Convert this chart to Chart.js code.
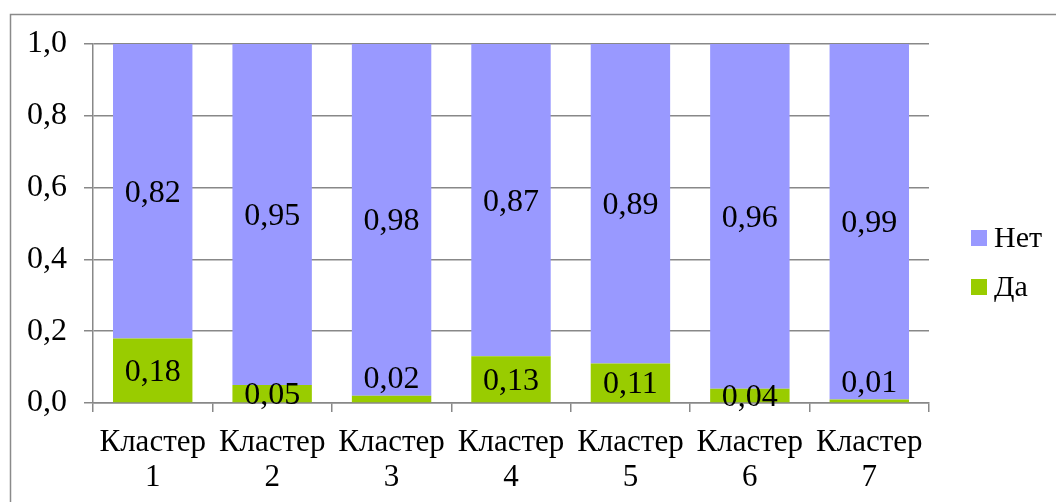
<!DOCTYPE html>
<html>
<head>
<meta charset="utf-8">
<script src="https://cdn.jsdelivr.net/npm/chart.js@4"></script>
<style>
  html, body { margin: 0; padding: 0; background: #fff; }
  #wrap { position: relative; width: 1056px; height: 502px; }
  canvas { display: block; }
</style>
</head>
<body>
<div id="wrap"><canvas id="c" width="1056" height="502"></canvas></div>
<script>
// Доли ответов по кластерам
const clusters = [["Кластер", "1"], ["Кластер", "2"], ["Кластер", "3"], ["Кластер", "4"], ["Кластер", "5"], ["Кластер", "6"], ["Кластер", "7"]];
const yesShare = [0.18, 0.05, 0.02, 0.13, 0.11, 0.04, 0.01];
const noShare = [0.82, 0.95, 0.98, 0.87, 0.89, 0.96, 0.99];
const seriesNames = ["Да", "Нет"];
const yTicks = [0, 0.2, 0.4, 0.6, 0.8, 1.0];

const FONT = "'Liberation Serif', 'Times New Roman', serif";
const GRID = '#888888';
const fmt = v => v.toFixed(2).replace('.', ',');

// Подписи значений внутри сегментов
const valueLabels = {
  id: 'valueLabels',
  afterDatasetsDraw(chart) {
    const ctx = chart.ctx;
    ctx.save();
    ctx.font = '32px ' + FONT;
    ctx.fillStyle = '#000';
    ctx.textAlign = 'center';
    ctx.textBaseline = 'middle';
    chart.data.datasets.forEach((ds, di) => {
      const meta = chart.getDatasetMeta(di);
      meta.data.forEach((bar, i) => {
        const v = ds.data[i];
        const top = Math.min(bar.y, bar.base);
        const bottom = Math.max(bar.y, bar.base);
        let cy = (top + bottom) / 2;
        if (bottom - top < 12) cy = top - 18; // тонкий сегмент: подпись над ним
        ctx.fillText(fmt(v), bar.x, cy + 2);
      });
    });
    ctx.restore();
  }
};

// Рамка области диаграммы и легенда справа
const frameAndLegend = {
  id: 'frameAndLegend',
  beforeDraw(chart) {
    const ctx = chart.ctx;
    ctx.save();
    ctx.strokeStyle = '#8a8a8a';
    ctx.lineWidth = 1.5;
    ctx.beginPath();
    ctx.moveTo(10.5, 520);
    ctx.lineTo(10.5, 14.5);
    ctx.lineTo(1070, 14.5);
    ctx.stroke();
    ctx.restore();
  },
  afterDraw(chart) {
    const ctx = chart.ctx;
    ctx.save();
    ctx.font = '30px ' + FONT;
    ctx.textBaseline = 'middle';
    ctx.textAlign = 'left';
    const order = [1, 0];
    order.forEach((di, k) => {
      const ds = chart.data.datasets[di];
      const cy = 238 + k * 49;
      ctx.fillStyle = ds.backgroundColor;
      ctx.fillRect(971, cy - 8, 16, 16);
      ctx.fillStyle = '#000';
      ctx.fillText(ds.label, 994, cy + 1);
    });
    ctx.restore();
  }
};

new Chart(document.getElementById('c'), {
  type: 'bar',
  data: {
    labels: clusters,
    datasets: [
      { label: seriesNames[0], data: yesShare, backgroundColor: '#99CC00', barPercentage: 0.665, categoryPercentage: 1 },
      { label: seriesNames[1], data: noShare, backgroundColor: '#9999FF', barPercentage: 0.665, categoryPercentage: 1 }
    ]
  },
  options: {
    responsive: false,
    animation: false,
    devicePixelRatio: 1,
    layout: { padding: { left: 0, top: 44, right: 127, bottom: 0 } },
    plugins: { legend: { display: false }, tooltip: { enabled: false } },
    scales: {
      x: {
        stacked: true,
        grid: { display: true, drawOnChartArea: false, drawTicks: true, tickLength: 9, color: GRID, lineWidth: 1.5, offset: true },
        border: { display: true, color: GRID, width: 1.5 },
        ticks: { color: '#000', font: { family: FONT, size: 31, lineHeight: 1.14 }, padding: 13, maxRotation: 0, autoSkip: false },
        afterFit(scale) { scale.height = 99; }
      },
      y: {
        stacked: true,
        min: 0,
        max: 1,
        afterBuildTicks(scale) { scale.ticks = yTicks.map(v => ({ value: v })); },
        grid: { color: GRID, lineWidth: 1.5, tickLength: 9, drawTicks: true },
        border: { display: true, color: GRID, width: 1.5 },
        ticks: {
          color: '#000',
          font: { family: FONT, size: 32 },
          padding: 17,
          callback: v => v.toFixed(1).replace('.', ',')
        },
        afterFit(scale) { scale.width = 93; }
      }
    }
  },
  plugins: [valueLabels, frameAndLegend]
});
</script>
</body>
</html>
